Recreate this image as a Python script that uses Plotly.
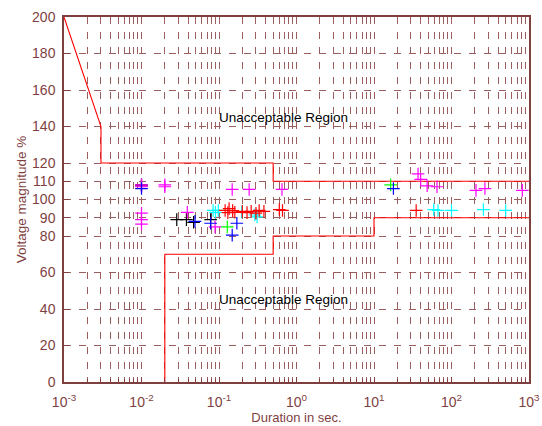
import math
import plotly.graph_objects as go

# ---- data ----
curve_upper_x = [0.001, 0.003, 0.003, 0.5, 0.5, 1000]
curve_upper_y = [200, 140, 120, 120, 110, 110]
curve_lower_x = [0.02, 0.02, 0.5, 0.5, 10, 10, 1000]
curve_lower_y = [0, 70, 70, 80, 80, 90, 90]

red_x = [0.12, 0.13, 0.135, 0.15, 0.16, 0.2, 0.23, 0.26, 0.3, 0.33, 0.38, 0.6, 0.66, 35]
red_y = [94, 92.8, 95, 93.9, 93, 93.5, 92.8, 93.5, 92.5, 94, 93.5, 94.5, 94, 94]
magenta_x = [0.01, 0.01, 0.02, 0.02, 0.01, 0.01, 0.01, 0.039, 0.089, 0.148, 0.245, 0.65, 37, 40, 48.5, 65, 207, 270, 820]
magenta_y = [108, 107, 108, 107, 92.5, 89, 86.5, 93, 85, 105.5, 105.5, 105.5, 114, 111, 107.5, 107, 105, 106, 105]
cyan_x = [0.084, 0.098, 0.09, 0.196, 0.29, 0.31, 59, 67, 100, 258, 500]
cyan_y = [94, 94, 93, 93, 91.5, 90.5, 94.5, 94, 94, 94.5, 94]
blue_x = [0.01, 0.049, 0.078, 0.17, 0.148, 17.8]
blue_y = [106, 88, 87, 87, 80.5, 106]
black_x = [0.01, 0.0285, 0.038, 0.047, 0.078]
black_y = [108, 89, 89, 87.5, 89]
green_x = [0.128, 16.4]
green_y = [85, 108]
purple_x = [0.01]
purple_y = [107.5]

y_ticks = [0, 20, 40, 60, 80, 90, 100, 110, 120, 140, 160, 180, 200]
x_ticks = [0.001, 0.01, 0.1, 1, 10, 100, 1000]
x_ticktext = ["10<sup>-3</sup>", "10<sup>-2</sup>", "10<sup>-1</sup>", "10<sup>0</sup>",
              "10<sup>1</sup>", "10<sup>2</sup>", "10<sup>3</sup>"]
minor_x = [m * 10 ** e for e in range(-3, 3) for m in range(2, 10)]

label_text = "Unacceptable Region"
label_x = 0.68
label_y_upper = 145
label_y_lower = 45

axis_col = "#7F3F3F"
grid_col = "#9A5E5E"
font = "Liberation Sans, Arial, sans-serif"

fig = go.Figure()
for cx, cy in [(curve_upper_x, curve_upper_y), (curve_lower_x, curve_lower_y)]:
    fig.add_trace(go.Scatter(x=cx, y=cy, mode="lines",
                             line=dict(color="#FF0000", width=1.1), showlegend=False))

series = [(black_x, black_y, "#000000"), (purple_x, purple_y, "#800080"),
          (magenta_x, magenta_y, "#FF00FF"), (cyan_x, cyan_y, "#00FFFF"),
          (red_x, red_y, "#FF0000"), (green_x, green_y, "#00FF00"),
          (blue_x, blue_y, "#0000FF")]
for sx, sy, c in series:
    fig.add_trace(go.Scatter(x=sx, y=sy, mode="markers", showlegend=False,
                             marker=dict(symbol="cross-thin", size=9, color=c,
                                         line=dict(width=1.2, color=c))))

for yy in (label_y_upper, label_y_lower):
    fig.add_annotation(x=math.log10(label_x), y=yy, text=label_text, showarrow=False,
                       font=dict(family=font, size=13.5, color="#000000"))

fig.update_layout(
    width=542, height=426,
    margin=dict(l=64, r=13, t=17, b=44),
    paper_bgcolor="white", plot_bgcolor="white",
    font=dict(family=font, size=14, color=axis_col),
    xaxis=dict(type="log", range=[-3, 3], tickvals=x_ticks, ticktext=x_ticktext,
               automargin=False, ticklabelstandoff=6,
               showline=True, mirror=True, linecolor=axis_col, linewidth=1.5,
               showgrid=True, gridcolor=grid_col, gridwidth=1, griddash="7px,8px",
               ticks="inside", ticklen=5, tickcolor=axis_col, zeroline=False,
               minor=dict(tickvals=minor_x, showgrid=True, gridcolor=grid_col,
                          gridwidth=1, griddash="7px,8px", ticks="inside", ticklen=3,
                          tickcolor=axis_col),
               title=dict(text="Duration in sec.", font=dict(size=13, color=axis_col),
                          standoff=4),
               tickfont=dict(size=14, color=axis_col)),
    yaxis=dict(range=[0, 200], tickvals=y_ticks,
               automargin=False, ticklabelstandoff=4,
               showline=True, mirror=True, linecolor=axis_col, linewidth=1.5,
               showgrid=True, gridcolor=grid_col, gridwidth=1, griddash="7px,8px",
               ticks="inside", ticklen=5, tickcolor=axis_col, zeroline=False,
               title=dict(text="Voltage magnitude %", font=dict(size=13.5, color=axis_col),
                          standoff=2),
               tickfont=dict(size=14, color=axis_col)),
)

fig.write_html("out.html", config={"displayModeBar": False},
               post_script="document.body.style.margin='0';document.body.style.overflow='hidden';")
